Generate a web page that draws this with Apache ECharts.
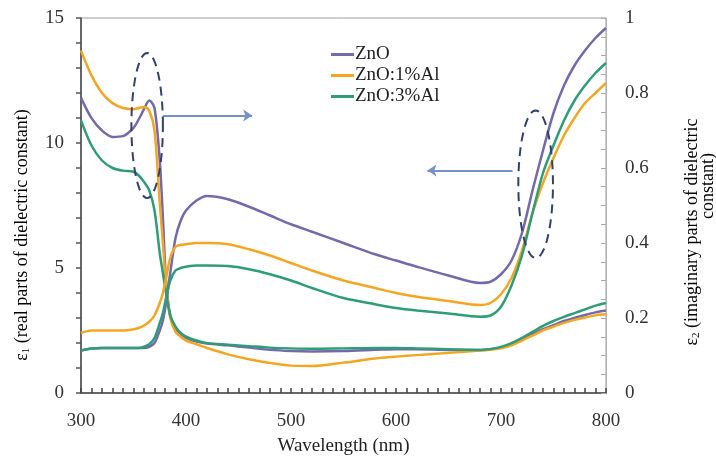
<!DOCTYPE html>
<html>
<head>
<meta charset="utf-8">
<script src="https://cdn.jsdelivr.net/npm/echarts@6/dist/echarts.min.js"></script>
<style>
	html, body { margin: 0; padding: 0; background: #fff; }
	#chart { width: 716px; height: 461px; }
</style>
</head>
<body>
<div id="chart"></div>
<script>
// wavelength grid (nm)
var wavelengths = [300, 310, 320, 330, 340, 350, 355, 360, 365, 370, 375, 378, 381, 385, 390, 395, 400, 410, 420, 440,
	460, 480, 500, 520, 550, 580, 600, 620, 650, 680, 690, 700, 710, 720, 730, 740, 750, 760, 770, 780, 790, 800];

// ε1, real part (left axis)
var e1ZnO = [1.7, 1.78, 1.8, 1.8, 1.8, 1.8, 1.8, 1.8, 1.85, 2.0, 2.5, 2.9, 3.6, 4.8, 6.2, 6.9, 7.3, 7.7, 7.88, 7.75,
	7.45, 7.1, 6.75, 6.45, 6.0, 5.55, 5.3, 5.05, 4.7, 4.4, 4.45, 4.75, 5.3, 6.4, 8.1, 9.7, 11.2, 12.3, 13.1, 13.7, 14.2, 14.6];
var e1Al1 = [2.4, 2.5, 2.5, 2.5, 2.5, 2.55, 2.6, 2.7, 2.85, 3.1, 3.6, 4.0, 4.6, 5.4, 5.85, 5.93, 5.95, 6.0, 6.0, 5.95,
	5.75, 5.5, 5.2, 4.9, 4.5, 4.2, 4.0, 3.85, 3.68, 3.52, 3.6, 3.95, 4.6, 5.7, 7.2, 8.4, 9.4, 10.3, 11.0, 11.6, 12.0, 12.4];
var e1Al3 = [1.7, 1.78, 1.8, 1.8, 1.8, 1.8, 1.8, 1.85, 1.95, 2.2, 2.8, 3.2, 3.8, 4.5, 4.9, 5.0, 5.05, 5.1, 5.1, 5.08,
	4.95, 4.75, 4.5, 4.2, 3.8, 3.55, 3.4, 3.3, 3.18, 3.05, 3.1, 3.45, 4.3, 5.5, 7.2, 8.8, 9.9, 10.9, 11.7, 12.3, 12.8, 13.2];

// ε2, imaginary part (right axis)
var e2ZnO = [0.787, 0.733, 0.700, 0.683, 0.685, 0.707, 0.730, 0.757, 0.780, 0.760, 0.620, 0.467, 0.300, 0.207, 0.173,
	0.157, 0.147, 0.137, 0.132, 0.127, 0.121, 0.115, 0.112, 0.111, 0.112, 0.115, 0.117, 0.117, 0.115, 0.115, 0.117,
	0.121, 0.130, 0.143, 0.157, 0.170, 0.181, 0.192, 0.200, 0.208, 0.215, 0.220];
var e2Al1 = [0.913, 0.847, 0.800, 0.773, 0.760, 0.757, 0.760, 0.763, 0.753, 0.700, 0.507, 0.400, 0.287, 0.200, 0.163,
	0.150, 0.140, 0.130, 0.120, 0.103, 0.090, 0.080, 0.073, 0.072, 0.081, 0.092, 0.097, 0.101, 0.107, 0.113, 0.115,
	0.119, 0.127, 0.140, 0.153, 0.167, 0.177, 0.187, 0.195, 0.201, 0.207, 0.210];
var e2Al3 = [0.727, 0.660, 0.620, 0.600, 0.593, 0.590, 0.580, 0.563, 0.540, 0.487, 0.373, 0.320, 0.267, 0.207, 0.177,
	0.160, 0.150, 0.140, 0.133, 0.129, 0.125, 0.121, 0.119, 0.118, 0.119, 0.120, 0.120, 0.119, 0.117, 0.115, 0.117,
	0.123, 0.133, 0.147, 0.163, 0.179, 0.192, 0.203, 0.213, 0.223, 0.233, 0.240];

var names = ['ZnO', 'ZnO:1%Al', 'ZnO:3%Al'];
var colors = ['#7369ab', '#f3a623', '#2f9c78'];

// annotations, in (nm, ε1) units: ellipse centre and half sizes
var ellipses = [
	[363, 10.7, 15, 2.9],
	[733, 8.35, 16.5, 2.95]
];
var arrowRight = [[378, 11.1], [463, 11.1]];
var arrowLeft = [[711, 8.9], [630, 8.9]];

var serif = 'Liberation Serif';

function pairs(ys) {
	return wavelengths.map(function (x, i) { return [x, ys[i]]; });
}

function line(name, color, ys, yAxisIndex) {
	return {
		name: name,
		type: 'line',
		yAxisIndex: yAxisIndex,
		data: pairs(ys),
		showSymbol: false,
		symbol: 'none',
		smooth: 0.3,
		lineStyle: { color: color, width: 2.5 },
		itemStyle: { color: color },
		emphasis: { disabled: true }
	};
}

var series = [
	line(names[0], colors[0], e2ZnO, 1),
	line(names[1], colors[1], e2Al1, 1),
	line(names[2], colors[2], e2Al3, 1),
	line(names[0], colors[0], e1ZnO, 0),
	line(names[1], colors[1], e1Al1, 0),
	line(names[2], colors[2], e1Al3, 0)
];
series[3].markLine = {
	silent: true,
	symbol: ['none', 'arrow'],
	symbolSize: 9,
	label: { show: false },
	lineStyle: { color: '#7492c9', width: 2, type: 'solid' },
	data: [
		[{ coord: arrowRight[0] }, { coord: arrowRight[1] }],
		[{ coord: arrowLeft[0] }, { coord: arrowLeft[1] }]
	]
};
// dashed ellipses, traced through the axes
series.push({
	name: 'ellipses',
	type: 'custom',
	silent: true,
	z: 10,
	xAxisIndex: 0,
	yAxisIndex: 0,
	data: ellipses,
	renderItem: function (params, api) {
		var e = ellipses[params.dataIndex];
		var pts = [];
		for (var k = 0; k < 72; k++) {
			var t = k / 72 * Math.PI * 2;
			pts.push(api.coord([e[0] + e[2] * Math.cos(t), e[1] + e[3] * Math.sin(t)]));
		}
		return {
			type: 'polygon',
			shape: { points: pts },
			style: { fill: 'none', stroke: '#33426b', lineWidth: 2, lineDash: [9, 6] }
		};
	}
});

var richName = {
	t: { fontFamily: serif, fontSize: 18, color: '#333' },
	s: { fontFamily: serif, fontSize: 11, color: '#333', verticalAlign: 'bottom', padding: [8, 0, 0, 0] }
};

var chart = echarts.init(document.getElementById('chart'));
var option = {
	animation: false,
	backgroundColor: '#fff',
	textStyle: { fontFamily: serif },
	grid: {
		left: 81, right: 110, top: 18, bottom: 68,
		show: true, borderColor: '#9a9a9a', borderWidth: 1
	},
	legend: {
		data: names,
		orient: 'vertical',
		left: 331,
		top: 45,
		padding: 0,
		itemGap: 2,
		itemWidth: 23,
		itemHeight: 3,
		icon: 'rect',
		textStyle: { fontFamily: serif, fontSize: 19, color: '#222', padding: [0, 0, 0, -4] }
	},
	xAxis: {
		type: 'value',
		min: 300, max: 800, interval: 100,
		name: 'Wavelength (nm)',
		nameLocation: 'middle',
		nameGap: 44,
		nameTextStyle: { fontFamily: serif, fontSize: 19, color: '#222' },
		axisLine: { show: true, onZero: false, lineStyle: { color: '#444', width: 1.5 } },
		axisTick: { show: true, length: 5, inside: true, lineStyle: { color: '#444', width: 1.5 } },
		minorTick: { show: true, splitNumber: 10, length: 5, lineStyle: { color: '#444', width: 1.5 } },
		axisLabel: { fontFamily: serif, fontSize: 19, color: '#333', margin: 19 },
		splitLine: { show: false }
	},
	yAxis: [{
		type: 'value',
		min: 0, max: 15, interval: 5,
		axisLine: { show: true, onZero: false, lineStyle: { color: '#444', width: 1.5 } },
		axisTick: { show: true, length: 5, lineStyle: { color: '#555', width: 1.5 } },
		minorTick: { show: true, splitNumber: 5, length: 5, lineStyle: { color: '#555', width: 1.5 } },
		axisLabel: { fontFamily: serif, fontSize: 19, color: '#333', margin: 17 },
		splitLine: { show: false }
	}, {
		type: 'value',
		min: 0, max: 1, interval: 0.2,
		position: 'right',
		axisLine: { show: true, onZero: false, lineStyle: { color: '#b5b5b5', width: 1 } },
		axisTick: { show: true, inside: true, length: 5, lineStyle: { color: '#aaa', width: 1 } },
		minorTick: { show: true, splitNumber: 4, length: 5, lineStyle: { color: '#aaa', width: 1 } },
		axisLabel: { fontFamily: serif, fontSize: 19, color: '#333', margin: 19 },
		splitLine: { show: false }
	}],
	graphic: [
		{
			type: 'text', x: 22, y: 235, rotation: Math.PI / 2, silent: true,
			style: {
				text: '{t|ε}{s|1}{t| (real parts of dielectric constant)}',
				rich: richName, align: 'center', verticalAlign: 'middle'
			}
		},
		{
			type: 'text', x: 692, y: 232, rotation: Math.PI / 2, silent: true,
			style: {
				text: '{t|ε}{s|2}{t| (imaginary parts of dielectric}',
				rich: richName, align: 'center', verticalAlign: 'middle'
			}
		},
		{
			type: 'text', x: 708, y: 186, rotation: Math.PI / 2, silent: true,
			style: {
				text: '{t|constant)}',
				rich: richName, align: 'center', verticalAlign: 'middle'
			}
		}
	],
	series: series
};
chart.setOption(option);
</script>
</body>
</html>
